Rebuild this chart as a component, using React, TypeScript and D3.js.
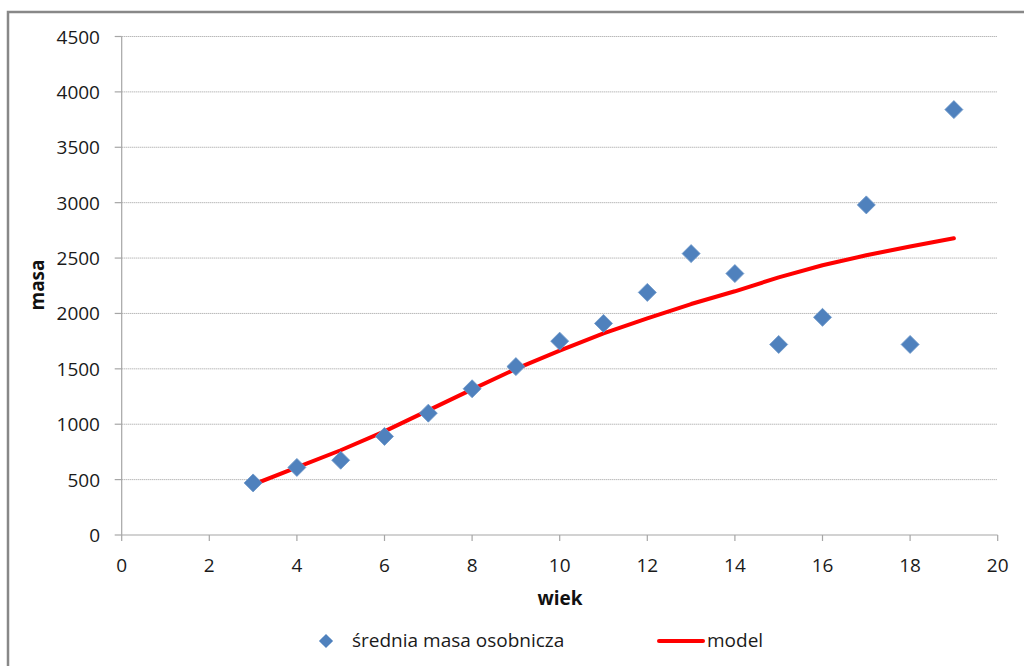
import * as d3 from "d3";

const ages = [3, 4, 5, 6, 7, 8, 9, 10, 11, 12, 13, 14, 15, 16, 17, 18, 19];
const meanMass = [470, 610, 675, 890, 1100, 1320, 1520, 1750, 1910, 2190, 2540, 2360, 1720, 1965, 2980, 1720, 3840];
const modelMass = [455, 610, 765, 935, 1125, 1315, 1500, 1665, 1820, 1955, 2085, 2200, 2325, 2435, 2525, 2605, 2678];
const xTicks = [0, 2, 4, 6, 8, 10, 12, 14, 16, 18, 20];
const yTicks = [0, 500, 1000, 1500, 2000, 2500, 3000, 3500, 4000, 4500];

const font = "'Open Sans', 'Noto Sans', sans-serif";
const blue = "#4f81bd";

export default function App() {
  const width = 1024;
  const height = 666;

  const x = d3.scaleLinear().domain([0, 20]).range([121.7, 997.7]);
  const y = d3.scaleLinear().domain([0, 4500]).range([535, 36.5]);

  const line = d3
    .line<number>()
    .x((_, i) => x(ages[i]))
    .y((d) => y(d));

  const diamond = d3.symbol().type(d3.symbolSquare).size(162)() ?? "";

  return (
    <svg
      width={width}
      height={height}
      style={{ position: "absolute", left: 0, top: 0, display: "block", background: "#fff" }}
    >
      <rect x={8} y={12} width={1040} height={700} fill="#fff" stroke="#888" strokeWidth={2.5} />

      {/* grid */}
      <g>
        {yTicks.slice(1).map((t) => (
          <line
            key={`g-${t}`}
            x1={x(0)}
            x2={x(20)}
            y1={y(t)}
            y2={y(t)}
            stroke="#9a9a9a"
            strokeWidth={1}
            strokeDasharray="1 1"
          />
        ))}
      </g>

      {/* axes */}
      <g stroke="#a6a6a6" strokeWidth={1.2}>
        <line x1={x(0)} x2={x(0)} y1={y(4500)} y2={y(0)} />
        <line x1={x(0)} x2={x(20)} y1={y(0)} y2={y(0)} />
        {yTicks.map((t) => (
          <line key={`yt-${t}`} x1={x(0) - 7} x2={x(0)} y1={y(t)} y2={y(t)} />
        ))}
        {xTicks.map((t) => (
          <line key={`xt-${t}`} x1={x(t)} x2={x(t)} y1={y(0)} y2={y(0) + 6} />
        ))}
      </g>

      <g fontFamily={font} fontSize={19} fill="#1a1a1a">
        {yTicks.map((t) => (
          <text key={`yl-${t}`} x={100} y={y(t)} textAnchor="end" dominantBaseline="central">
            {t}
          </text>
        ))}
        {xTicks.map((t) => (
          <text key={`xl-${t}`} x={x(t)} y={565} textAnchor="middle" dominantBaseline="central">
            {t}
          </text>
        ))}
      </g>

      <text
        x={560}
        y={598}
        textAnchor="middle"
        dominantBaseline="central"
        fontFamily={font}
        fontSize={19}
        fontWeight="bold"
        fill="#111"
      >
        wiek
      </text>
      <text
        transform="translate(37,285) rotate(-90)"
        textAnchor="middle"
        dominantBaseline="central"
        fontFamily={font}
        fontSize={19}
        fontWeight="bold"
        fill="#111"
      >
        masa
      </text>

      {/* model */}
      <path
        d={line(modelMass) ?? ""}
        fill="none"
        stroke="#ff0000"
        strokeWidth={4}
        strokeLinejoin="round"
        strokeLinecap="round"
      />

      {/* observed */}
      <g>
        {meanMass.map((v, i) => (
          <path
            key={`pt-${ages[i]}`}
            d={diamond}
            transform={`translate(${x(ages[i])},${y(v)}) rotate(45)`}
            fill={blue}
            stroke="#6d97c9"
            strokeWidth={0.8}
          />
        ))}
      </g>

      {/* legend */}
      <g fontFamily={font} fontSize={19} fill="#1a1a1a">
        <path
          d={d3.symbol().type(d3.symbolSquare).size(100)() ?? ""}
          transform="translate(326,641) rotate(45)"
          fill={blue}
        />
        <text x={352} y={640} dominantBaseline="central">
          średnia masa osobnicza
        </text>
        <line x1={659} x2={703} y1={641} y2={641} stroke="#ff0000" strokeWidth={4} strokeLinecap="round" />
        <text x={707} y={640} dominantBaseline="central">
          model
        </text>
      </g>
    </svg>
  );
}
